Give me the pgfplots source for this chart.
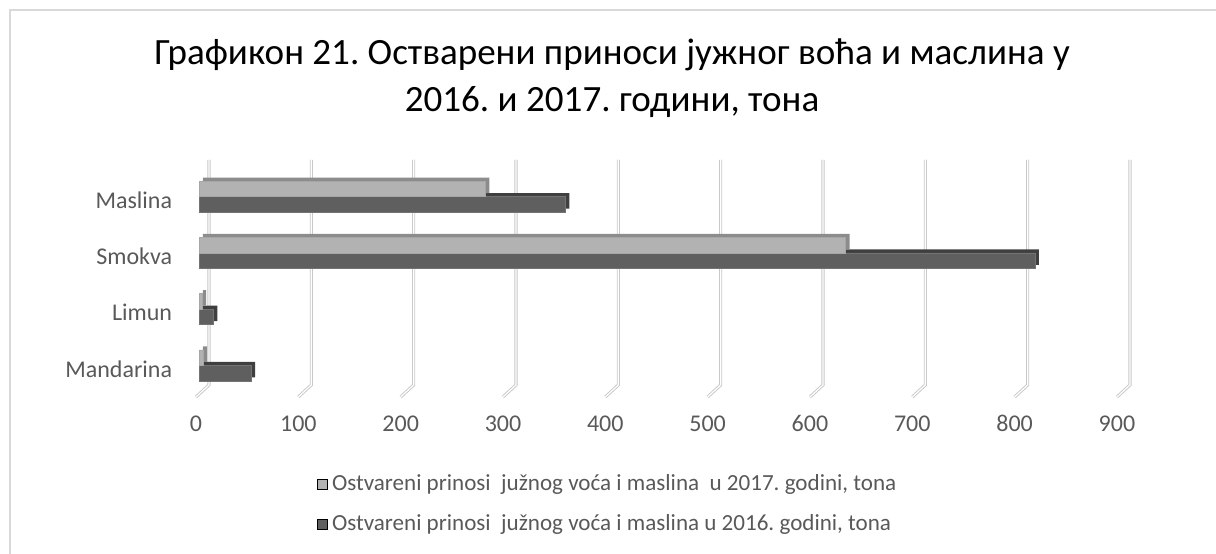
\documentclass[border=0pt]{standalone}
\usepackage{pgfplots}
\pgfplotsset{compat=1.18}
\usepackage{fontspec}
\setmainfont{Carlito}
\frenchspacing
\definecolor{lightbar}{HTML}{B2B2B2}
\definecolor{lighttop}{HTML}{8C8C8C}
\definecolor{darkbar}{HTML}{5F5F5F}
\definecolor{darktop}{HTML}{3F3F3F}
\definecolor{txt}{HTML}{595959}
\definecolor{gridc}{HTML}{C8C8C8}
\begin{document}
\begin{tikzpicture}
\useasboundingbox (0pt,0pt) rectangle (456pt,207.75pt);
\draw[draw=black!15, line width=0.5pt] (3.75pt,-20pt) -- (3.75pt,204pt) -- (480pt,204pt);
% title
\node[anchor=base, font=\fontsize{13.9}{16}\selectfont] at (229.5pt,183.4pt) {Графикон 21. Остварени приноси јужног воћа и маслина у};
\node[anchor=base, font=\fontsize{13.9}{16}\selectfont] at (229.5pt,165.75pt) {2016. и 2017. години, тона};
\begin{axis}[
  at={(73.5pt,58.875pt)}, anchor=south west,
  scale only axis, width=345.375pt, height=84.375pt,
  xmin=0, xmax=900, ymin=-0.5, ymax=3.5,
  xtick={0,100,...,900},
  ytick={0,1,2,3},
  yticklabels={Mandarina,Limun,Smokva,Maslina},
  axis line style={draw=none}, tick style={draw=none},
  clip=false,
  /pgf/number format/assume math mode=true,
  ticklabel style={font=\fontsize{9}{11}\selectfont, text=txt},
  xticklabel style={anchor=base, yshift=-13.1pt},
  yticklabel style={anchor=east, inner sep=0pt, xshift=-4.5pt},
  xbar, bar width=5.8pt,
  legend style={draw=none, fill=none, at={(0.448,-0.478)}, anchor=center,
    font=\fontsize{8.65}{11}\selectfont, text=txt, row sep=3.4pt,
    legend cell align=left, nodes={inner xsep=1.6pt}},
  legend image code/.code={\fill[#1] (0pt,-1.9pt) rectangle (3.8pt,1.9pt);},
]
\pgfplotsinvokeforeach{0,100,...,900}{
  \draw[draw=gridc, double=white, double distance=0.45pt, line width=0.35pt]
    (axis cs:#1,-0.5) -- ++(4.875pt,4.5pt) -- ([xshift=4.875pt,yshift=4.5pt]axis cs:#1,3.5);
}
\addlegendimage{fill=lightbar}
\addlegendentry{Ostvareni prinosi\ \ južnog voća i maslina\ \ u 2017. godini, tona}
\addlegendimage{fill=darkbar}
\addlegendentry{Ostvareni prinosi\ \ južnog voća i maslina u 2016. godini, tona}
% 2016 depth face
\addplot[forget plot, bar shift=-2.9pt, fill=darktop, draw=none, xshift=2.6pt, yshift=2.6pt]
  coordinates {(51,0) (14,1) (817,2) (358,3)};
% 2016 front
\addplot[forget plot, bar shift=-2.9pt, fill=darkbar, draw=black!55, line width=0.2pt, xshift=1.125pt, yshift=1.3pt]
  coordinates {(51,0) (14,1) (817,2) (358,3)};
% 2017 depth face
\addplot[forget plot, bar shift=2.9pt, fill=lighttop, draw=none, xshift=2.6pt, yshift=2.6pt]
  coordinates {(4,0) (3,1) (632,2) (280,3)};
% 2017 front
\addplot[forget plot, bar shift=2.9pt, fill=lightbar, draw=black!35, line width=0.2pt, xshift=1.125pt, yshift=1.3pt]
  coordinates {(4,0) (3,1) (632,2) (280,3)};
\end{axis}
\end{tikzpicture}
\end{document}
